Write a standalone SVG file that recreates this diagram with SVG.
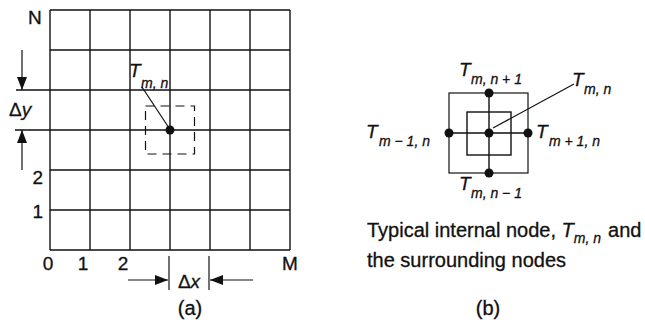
<svg xmlns="http://www.w3.org/2000/svg" width="645" height="325" viewBox="0 0 645 325">
<defs>
<marker id="ah" viewBox="0 0 13 10" refX="13" refY="5" markerWidth="13" markerHeight="10" markerUnits="userSpaceOnUse" orient="auto">
<path d="M0,0 L13,5 L0,10 Z" fill="#111"/>
</marker>
</defs>
<style>
.g{stroke:#111;stroke-width:1.4;fill:none}
.l{stroke:#111;stroke-width:1.2;fill:none}
.d{fill:#111}
.t{font-family:"Liberation Sans",Arial,sans-serif;fill:#111;stroke:#111;stroke-width:0.3}
.n{font-size:19px}
.T{font-size:19px;font-style:italic}
.s{font-size:14px;font-style:italic}
.c{font-size:20px}
</style>
<rect width="645" height="325" fill="#fff"/>
<g id="grid">
<path class="g" d="M50,10V250M90,10V250M130,10V250M170,10V250M210,10V250M250,10V250M290,10V250M50,10H290M50,50H290M16,90H290M15,130H290M50,170H290M50,210H290M50,250H290"/>
<rect class="l" x="145.5" y="106" width="49" height="48" stroke-dasharray="9 6"/>
<circle class="d" cx="170" cy="130" r="4.5"/>
</g>
<g id="labels-a">
<text class="t n" x="28" y="24">N</text>
<text class="t n" x="43" y="184" text-anchor="end">2</text>
<text class="t n" x="43" y="218" text-anchor="end">1</text>
<text class="t n" x="48" y="270" text-anchor="middle">0</text>
<text class="t n" x="83" y="270" text-anchor="middle">1</text>
<text class="t n" x="123" y="270" text-anchor="middle">2</text>
<text class="t n" x="290" y="270" text-anchor="middle">M</text>
<text class="t n" x="9" y="116">Δ<tspan font-style="italic">y</tspan></text>
<text class="t n" x="189" y="288" text-anchor="middle">Δ<tspan font-style="italic">x</tspan></text>
<text class="t c" x="190" y="315" text-anchor="middle">(a)</text>
<text class="t T" x="129" y="77">T</text>
<text class="t s" x="141" y="88">m, n</text>
</g>
<g id="connectors">
<line class="l" x1="22" y1="50" x2="22" y2="90" marker-end="url(#ah)"/>
<line class="l" x1="22" y1="170" x2="22" y2="130" marker-end="url(#ah)"/>
<line class="l" x1="169" y1="256" x2="169" y2="290"/>
<line class="l" x1="209" y1="256" x2="209" y2="290"/>
<line class="l" x1="128" y1="280" x2="168" y2="280" marker-end="url(#ah)"/>
<line class="l" x1="253" y1="280" x2="210" y2="280" marker-end="url(#ah)"/>
<line class="l" x1="142" y1="87" x2="169" y2="128"/>
<line class="l" x1="493" y1="128" x2="574" y2="84"/>
</g>
<g id="node-b">
<rect class="l" x="449" y="93" width="79" height="80"/>
<rect class="g" x="467" y="112" width="44" height="43"/>
<path class="g" d="M489,93V173M449,133H528"/>
<circle class="d" cx="489" cy="93" r="4.5"/>
<circle class="d" cx="489" cy="173" r="4.5"/>
<circle class="d" cx="449" cy="133" r="4.5"/>
<circle class="d" cx="528" cy="133" r="4.5"/>
<circle class="d" cx="489" cy="133" r="4.5"/>
</g>
<g id="labels-b">
<text class="t T" x="459" y="76">T</text>
<text class="t s" x="471" y="84">m, n + 1</text>
<text class="t T" x="572" y="86">T</text>
<text class="t s" x="584" y="94">m, n</text>
<text class="t T" x="366" y="138">T</text>
<text class="t s" x="379" y="146">m − 1, n</text>
<text class="t T" x="536" y="138">T</text>
<text class="t s" x="549" y="146">m + 1, n</text>
<text class="t T" x="459" y="190">T</text>
<text class="t s" x="471" y="198">m, n − 1</text>
<text class="t c" x="367" y="237">Typical internal node, <tspan font-style="italic">T</tspan><tspan class="s" dy="6">m, n</tspan><tspan dx="7" dy="-6">and</tspan></text>
<text class="t c" x="367" y="267">the surrounding nodes</text>
<text class="t c" x="488" y="315" text-anchor="middle">(b)</text>
</g>
</svg>
